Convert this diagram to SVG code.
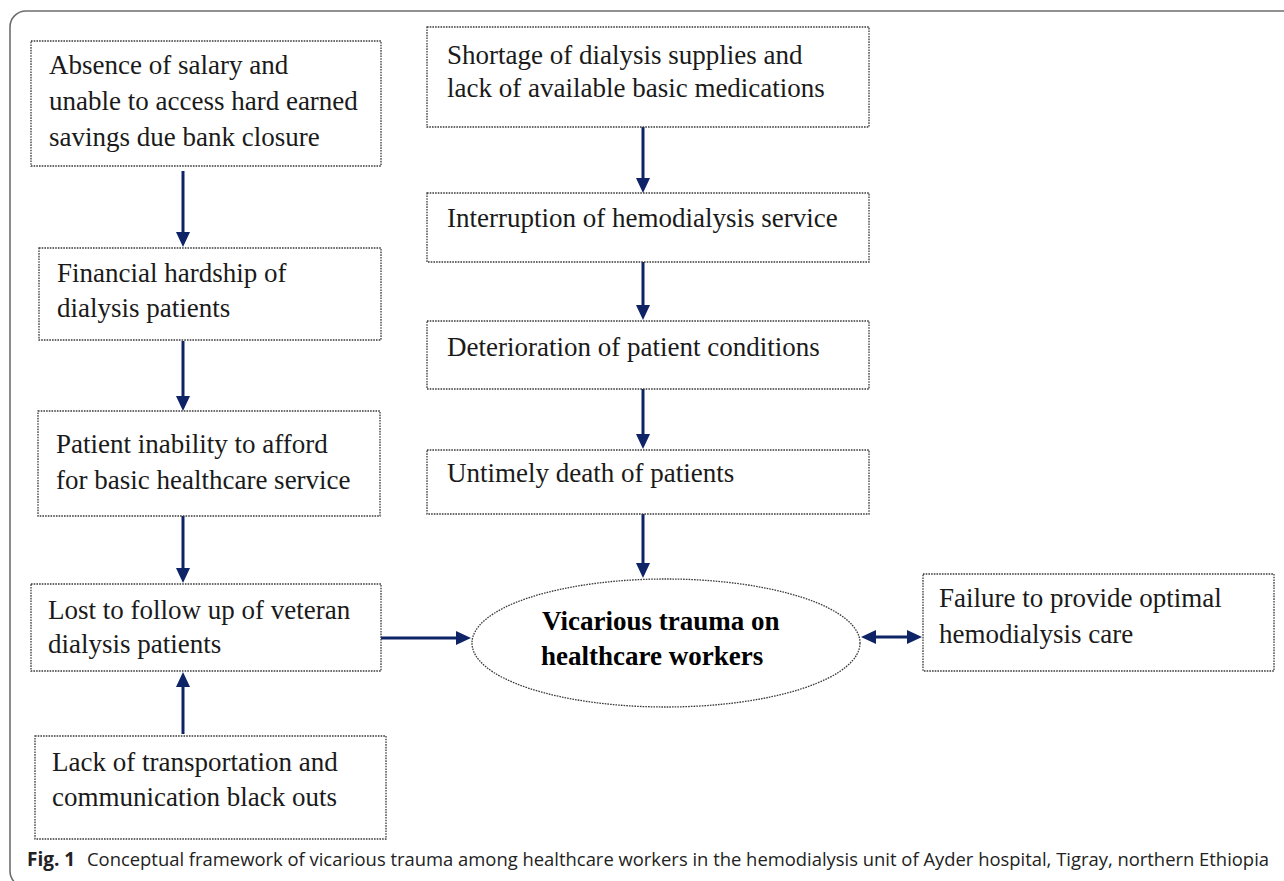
<svg xmlns="http://www.w3.org/2000/svg" width="1284" height="881" viewBox="0 0 1284 881">
<style>
.box{fill:#fff;stroke:#3a3a3a;stroke-width:1.3;stroke-dasharray:1.6 1.1}
.t{font-family:"Liberation Serif","Times New Roman",serif;font-size:27px;fill:#1a1a1a}
.tb{font-family:"Liberation Serif","Times New Roman",serif;font-size:27px;font-weight:bold;fill:#000}
.c{stroke:#0e2466;stroke-width:3;fill:none}
.cap{font-family:"Open Sans","Noto Sans",sans-serif;font-size:17.5px;fill:#222}
.fig{font-family:"Open Sans","Noto Sans",sans-serif;font-size:19px;font-weight:bold;fill:#222}
</style>
<defs>
<marker id="ah" markerUnits="userSpaceOnUse" markerWidth="15" markerHeight="14" refX="5" refY="7" orient="auto-start-reverse">
<path d="M0,0 L15,7 L0,14 z" fill="#0e2466"/>
</marker>
</defs>
<rect x="0" y="0" width="1284" height="881" fill="#fff"/>
<rect x="10" y="11" width="1320" height="876" rx="16" fill="none" stroke="#6e6e6e" stroke-width="1.6"/>

<g id="connectors">
<line class="c" x1="183" y1="171" x2="183" y2="237" marker-end="url(#ah)"/>
<line class="c" x1="183" y1="341" x2="183" y2="401" marker-end="url(#ah)"/>
<line class="c" x1="183" y1="516" x2="183" y2="573" marker-end="url(#ah)"/>
<line class="c" x1="183" y1="734" x2="183" y2="682" marker-end="url(#ah)"/>
<line class="c" x1="643" y1="127" x2="643" y2="183" marker-end="url(#ah)"/>
<line class="c" x1="643" y1="262" x2="643" y2="310" marker-end="url(#ah)"/>
<line class="c" x1="643" y1="389" x2="643" y2="439" marker-end="url(#ah)"/>
<line class="c" x1="643" y1="514" x2="643" y2="568" marker-end="url(#ah)"/>
<line class="c" x1="381" y1="638" x2="461" y2="638" marker-end="url(#ah)"/>
<line class="c" x1="871" y1="637" x2="912" y2="637" marker-start="url(#ah)" marker-end="url(#ah)"/>
</g>

<g id="n1"><rect class="box" x="31" y="41" width="350" height="125"/>
<text class="t" x="49" y="74">Absence of salary and</text>
<text class="t" x="49" y="110">unable to access hard earned</text>
<text class="t" x="49" y="146">savings due bank closure</text></g>

<g id="n2"><rect class="box" x="39" y="248" width="342" height="92"/>
<text class="t" x="57" y="282">Financial hardship of</text>
<text class="t" x="57" y="317">dialysis patients</text></g>

<g id="n3"><rect class="box" x="38" y="411" width="342" height="105"/>
<text class="t" x="56" y="453">Patient inability to afford</text>
<text class="t" x="56" y="489">for basic healthcare service</text></g>

<g id="n4"><rect class="box" x="31" y="584" width="350" height="87"/>
<text class="t" x="48" y="619">Lost to follow up of veteran</text>
<text class="t" x="48" y="653">dialysis patients</text></g>

<g id="n5"><rect class="box" x="35" y="736" width="351" height="103"/>
<text class="t" x="52" y="771">Lack of transportation and</text>
<text class="t" x="52" y="806">communication black outs</text></g>

<g id="m1"><rect class="box" x="427" y="27" width="442" height="100"/>
<text class="t" x="447" y="64">Shortage of dialysis supplies and</text>
<text class="t" x="447" y="97">lack of available basic medications</text></g>

<g id="m2"><rect class="box" x="427" y="193" width="442" height="69"/>
<text class="t" x="447" y="227">Interruption of hemodialysis service</text></g>

<g id="m3"><rect class="box" x="427" y="321" width="442" height="68"/>
<text class="t" x="447" y="356">Deterioration of patient conditions</text></g>

<g id="m4"><rect class="box" x="427" y="450" width="442" height="64"/>
<text class="t" x="447" y="482">Untimely death of patients</text></g>

<g id="r1"><rect class="box" x="923" y="574" width="351" height="97"/>
<text class="t" x="939" y="607">Failure to provide optimal</text>
<text class="t" x="939" y="643">hemodialysis care</text></g>

<g id="center"><ellipse class="box" cx="666" cy="643" rx="194" ry="64"/>
<text class="tb" x="542" y="630">Vicarious trauma on</text>
<text class="tb" x="541" y="665">healthcare workers</text></g>

<g id="caption">
<text class="fig" x="27" y="866">Fig. 1</text>
<text class="cap" x="87" y="866" textLength="1182" lengthAdjust="spacingAndGlyphs">Conceptual framework of vicarious trauma among healthcare workers in the hemodialysis unit of Ayder hospital, Tigray, northern Ethiopia</text>
</g>
</svg>
